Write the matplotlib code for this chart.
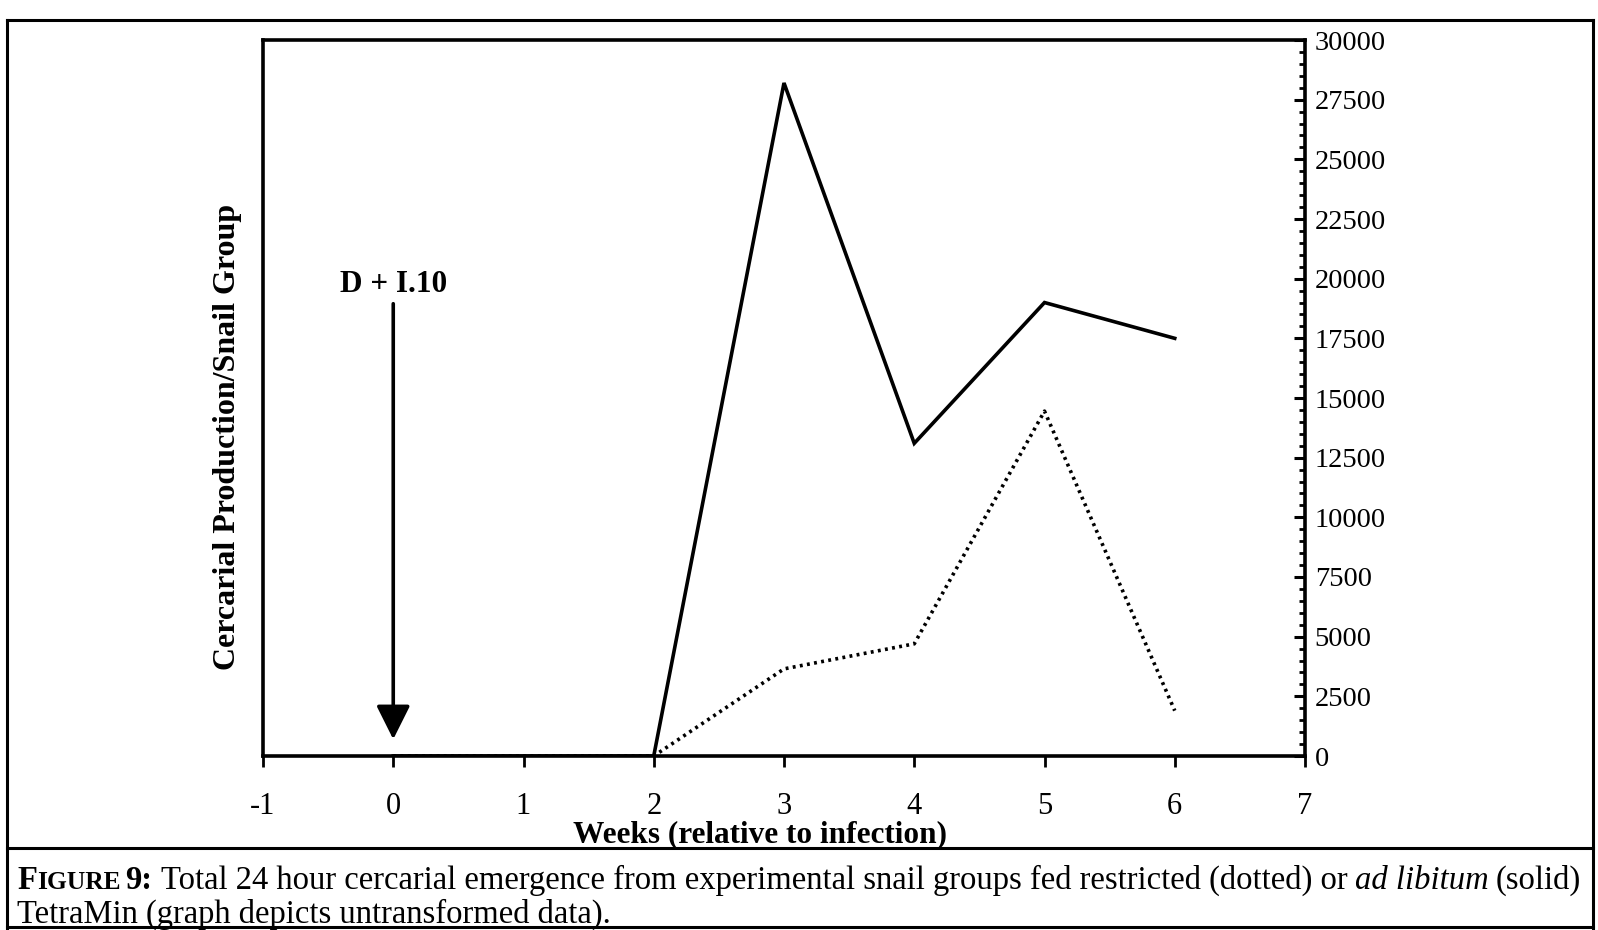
import matplotlib
matplotlib.use("Agg")
import matplotlib.pyplot as plt
from matplotlib.lines import Line2D
from matplotlib.ticker import MultipleLocator

plt.rcParams['font.family'] = ['Liberation Serif', 'DejaVu Serif']

# data
weeks = [0, 1, 2, 3, 4, 5, 6]
ad_libitum = [0, 0, 0, 28200, 13100, 19000, 17500]     # solid
restricted = [0, 0, 0, 3650, 4700, 14450, 1900]        # dotted
x_ticks = [-1, 0, 1, 2, 3, 4, 5, 6, 7]
y_ticks = [0, 2500, 5000, 7500, 10000, 12500, 15000, 17500, 20000,
           22500, 25000, 27500, 30000]

W, H = 1598, 930
fig = plt.figure(figsize=(W / 100, H / 100), dpi=100)
ax = fig.add_axes([263 / W, 1 - 756 / H, (1305 - 263) / W, (756 - 40) / H])

ax.plot(weeks, ad_libitum, color='black', lw=2.6, solid_joinstyle='miter')
ax.plot(weeks, restricted, color='black', lw=2.6, linestyle=(0, (0.8, 1.2)))

ax.set_xlim(-1, 7)
ax.set_ylim(0, 30000)
ax.set_xticks(x_ticks)
ax.set_yticks(y_ticks)
ax.set_xticklabels([str(t) for t in x_ticks])
ax.set_yticklabels([str(t) for t in y_ticks])
ax.yaxis.set_minor_locator(MultipleLocator(500))
ax.yaxis.tick_right()
ax.tick_params(axis='y', which='major', direction='in', length=8, width=2.2,
               labelsize=20.5, pad=7)
ax.tick_params(axis='y', which='minor', direction='in', length=4, width=2)
ax.tick_params(axis='x', direction='out', length=8, width=2, labelsize=22, pad=18)
for s in ax.spines.values():
    s.set_linewidth(2.6)

ax.set_ylabel('Cercarial Production/Snail Group', fontsize=23, fontweight='bold')
ax.yaxis.set_label_position('left')
ax.yaxis.set_label_coords(-0.034, 0.445)
ax.yaxis.label.set_va('center')
ax.set_xlabel('Weeks (relative to infection)', fontsize=22.5, fontweight='bold')
ax.xaxis.set_label_coords(0.477, -0.11)
ax.xaxis.label.set_va('center')

# infection marker
ax.text(0, 19750, 'D + I.10', ha='center', va='center', fontsize=22.5,
        fontweight='bold')
ax.annotate('', xy=(0, 700), xytext=(0, 18950),
            arrowprops=dict(arrowstyle='-|>', lw=2.6, color='black',
                            mutation_scale=52, shrinkA=0, shrinkB=0))

# outer frame and caption rule
frame_pts = [((7, 20), (7, 928)), ((7, 20), (1593, 20)), ((1593, 20), (1593, 928)),
             ((7, 927), (1593, 927)), ((7, 848), (1593, 848))]
for (x0, y0), (x1, y1) in frame_pts:
    fig.add_artist(Line2D([x0 / W, x1 / W], [1 - y0 / H, 1 - y1 / H],
                          transform=fig.transFigure, color='black', lw=2.2))

# caption, built piece by piece so the small caps and italics line up
fig.canvas.draw()
renderer = fig.canvas.get_renderer()


def put(x, y, s, gap=0, **kw):
    t = fig.text((x + gap) / W, 1 - y / H, s, va='baseline', ha='left', **kw)
    bb = t.get_window_extent(renderer)
    return bb.x1


cap = 23.5
x = put(17, 889, 'F', fontsize=cap, fontweight='bold')
x = put(x, 889, 'IGURE', fontsize=cap * 0.78, fontweight='bold')
x = put(x, 889, '9:', gap=5, fontsize=cap, fontweight='bold')
x = put(x, 889, 'Total 24 hour cercarial emergence from experimental snail groups '
        'fed restricted (dotted) or', gap=9, fontsize=cap)
x = put(x, 889, 'ad libitum', gap=7, fontsize=cap, style='italic')
x = put(x, 889, '(solid)', gap=7, fontsize=cap)
put(17, 923, 'TetraMin (graph depicts untransformed data).', fontsize=cap)

fig.savefig('out.png', dpi=100)
